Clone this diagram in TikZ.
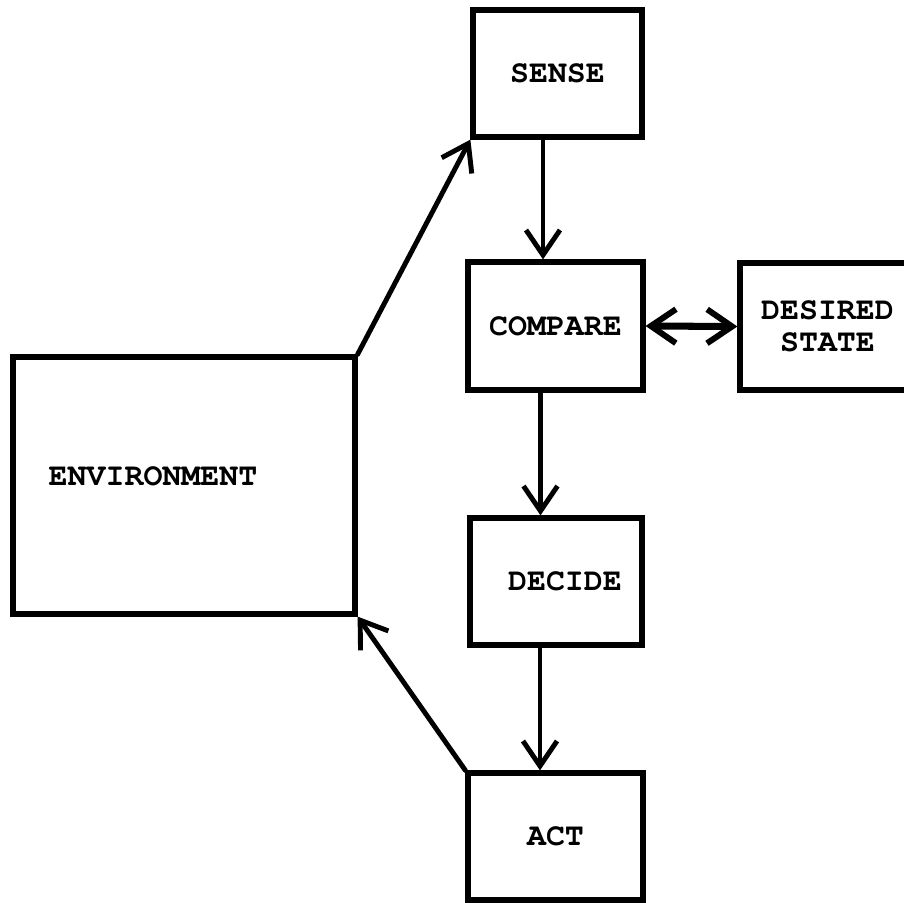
\documentclass[tikz,border=0pt]{standalone}
\usepackage[T1]{fontenc}
\usepackage{courier}
\usepackage{tikz}
\usetikzlibrary{arrows.meta}

\begin{document}
\begin{tikzpicture}[x=0.02cm,y=-0.02cm,
            box/.style={shape=rectangle, draw, line width=3pt, inner sep=0pt,
                font=\fontsize{18}{18.5}\selectfont\ttfamily\bfseries, align=center},
            arr/.style={line width=2.8pt, line cap=round, line join=round,
                -{Straight Barb[length=0.5cm,width=0.68cm,line width=2.8pt]}}]
        \useasboundingbox (0,0) rectangle (904,903);

        \node[box, minimum width=3.38cm, minimum height=2.54cm] (sense) at (557.5,73.5) {SENSE};
        \node[box, minimum width=3.5cm, minimum height=2.56cm] (compare) at (555.5,326) {COMPARE};
        \node[box, minimum width=3.5cm, minimum height=2.54cm] (desired) at (827.5,326.5) {DESIRED\\STATE};
        \node[box, minimum width=3.44cm, minimum height=2.54cm] (decide) at (556,581.5) {\hspace*{0.36cm}DECIDE};
        \node[box, minimum width=3.5cm, minimum height=2.54cm] (act) at (555.5,836.5) {ACT};
        \node[box, minimum width=6.84cm, minimum height=5.14cm] (env) at (184,485.5)
            {\raisebox{0.36cm}{ENVIRONMENT\hspace*{1.24cm}}};

        \draw[arr] ([xshift=-0.29cm]sense.south) -- ([xshift=-0.29cm]sense.south |- compare.north);
        \draw[arr] ([xshift=-0.3cm]compare.south) -- ([xshift=-0.3cm]compare.south |- decide.north);
        \draw[arr] ([xshift=-0.32cm]decide.south) -- ([xshift=-0.32cm]decide.south |- act.north);

        \draw[arr, line width=4pt, {Straight Barb[length=0.5cm,width=0.68cm,line width=3.4pt]}-{Straight Barb[length=0.5cm,width=0.68cm,line width=3.4pt]}]
            (compare.east) -- (desired.west);

        \draw[arr] (env.north east) -- (sense.south west);
        \draw[arr] (act.north west) -- (env.south east);
    \end{tikzpicture}
\end{document}
